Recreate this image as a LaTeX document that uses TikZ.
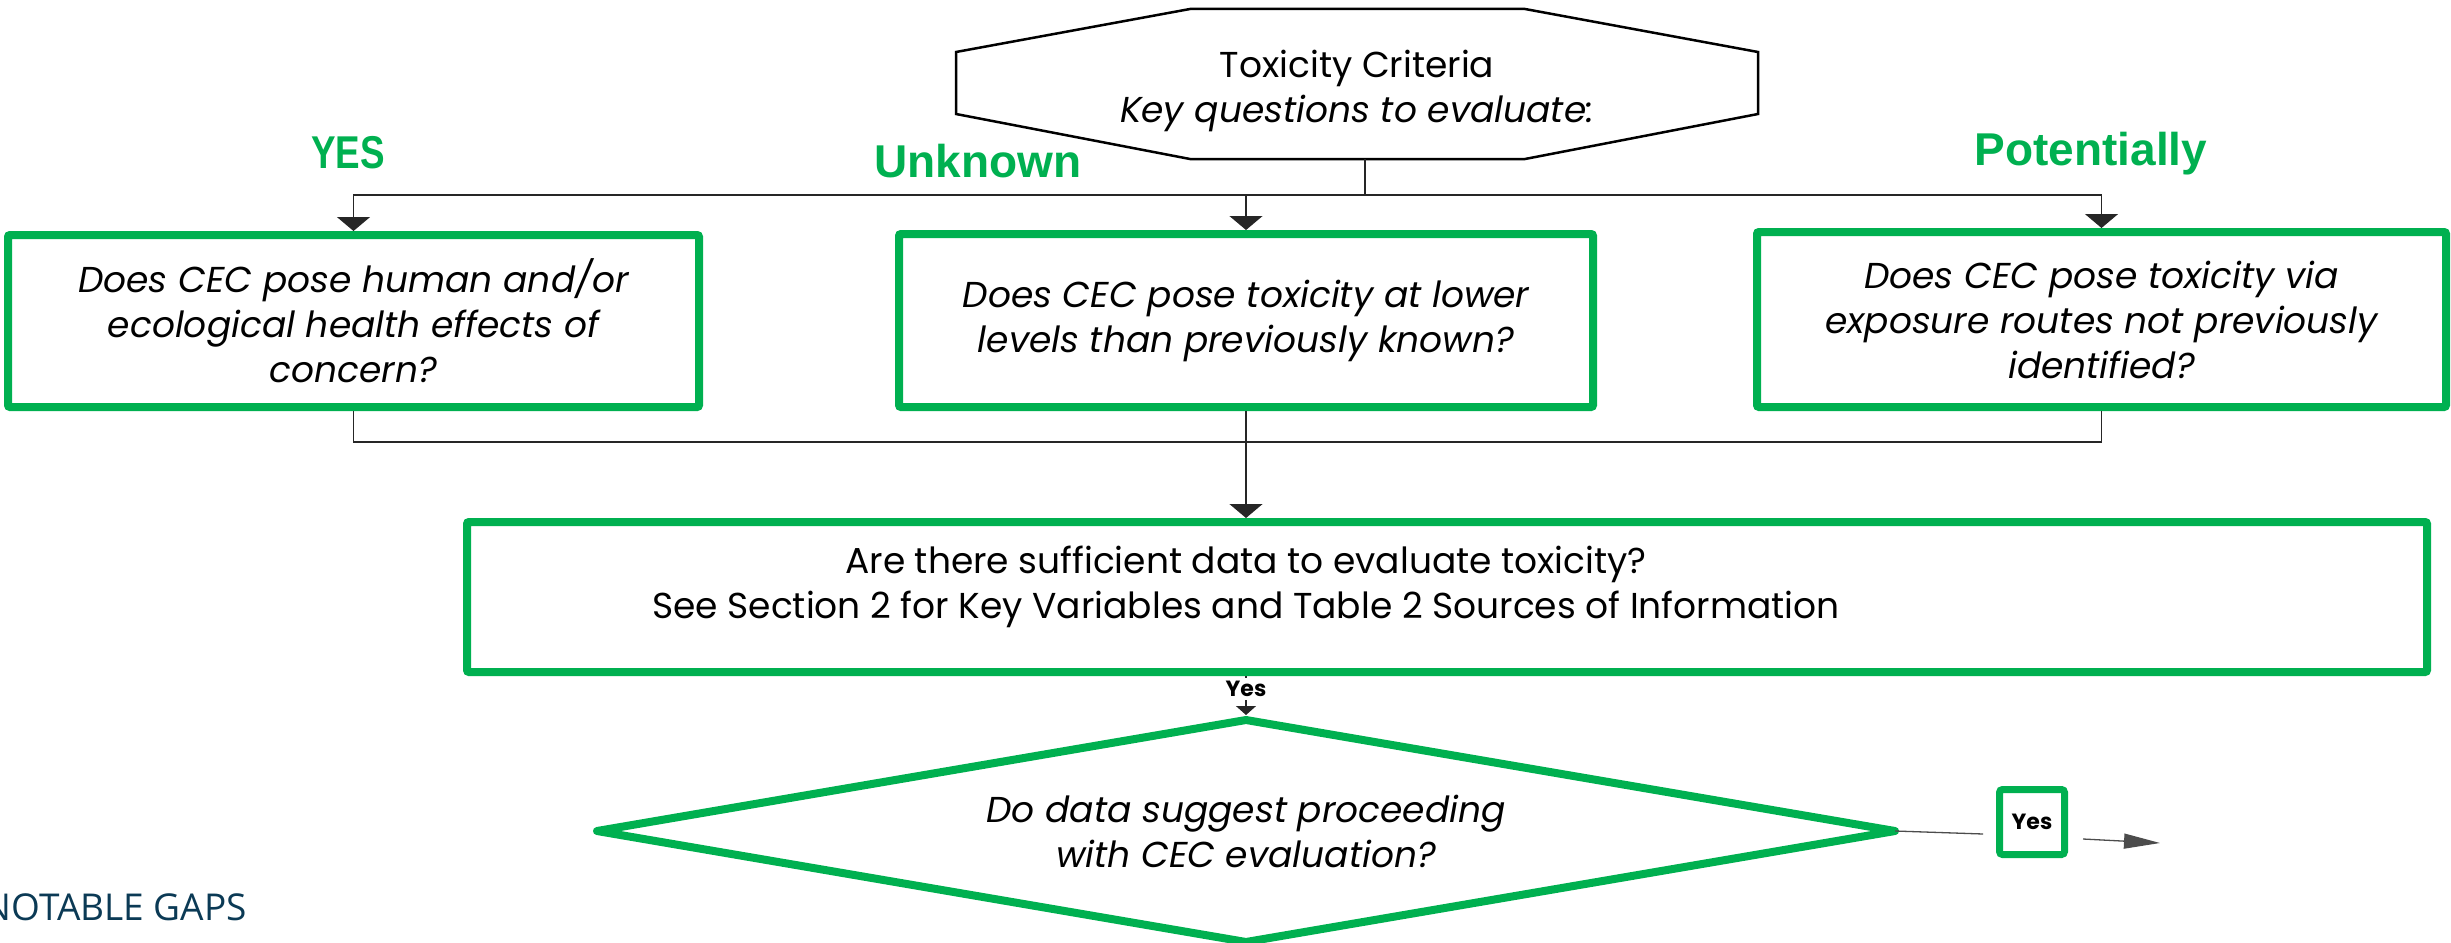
\documentclass[tikz,border=0pt]{standalone}
\usepackage{fontspec}
\setmainfont{Poppins}
\newfontfamily\headfont{Liberation Sans}
\newfontfamily\gapfont{Open Sans}
\usetikzlibrary{arrows.meta,shapes.geometric}
\definecolor{cgreen}{HTML}{00B050}
\definecolor{gapblue}{HTML}{0B3A55}
\begin{document}
\begin{tikzpicture}[x=1pt,y=-1pt,
  gbox/.style={draw=cgreen,line width=8pt,rounded corners=2pt,inner sep=0pt,align=center,
    font=\fontsize{36}{45}\selectfont\itshape},
  conn/.style={draw=black!85,line width=1.3pt},
  bigarr/.style={-{Triangle[width=33pt,length=14pt]}},
  smallarr/.style={-{Triangle[width=20pt,length=9pt]}},
  sidearr/.style={-{Triangle[width=15pt,length=36pt]}},
  head/.style={text=cgreen,font=\headfont\bfseries\fontsize{46}{50}\selectfont,anchor=base,inner sep=0pt},
  yeslbl/.style={font=\bfseries\fontsize{22}{24}\selectfont,inner sep=1pt},
  plain/.style={align=center,inner sep=0pt,font=\fontsize{36}{45}\selectfont}
]
\useasboundingbox (0,0) rectangle (2451,942);

% octagon
\node[minimum width=802pt,minimum height=150pt,inner sep=0pt,outer sep=0pt] (oct) at (1357,84) {};
\node[plain] (octtext) at (1357,91)
  {Toxicity Criteria\\\itshape Key questions to evaluate:};
\draw[line width=2.5pt,line join=miter]
  ([yshift=32pt]oct.west) -- ([xshift=-167pt]oct.north) -- ([xshift=168pt]oct.north)
  -- ([yshift=32pt]oct.east) -- ([yshift=-30pt]oct.east) -- ([xshift=168pt]oct.south)
  -- ([xshift=-167pt]oct.south) -- ([yshift=-30pt]oct.west) -- cycle;

% headings
\node[head] (hyes) at (348,168) {\scalebox{0.8}[1]{YES}};
\node[head] (hunk) at (978,177) {Unknown};
\node[head] (hpot) at (2091,165) {Potentially};

% question boxes
\node[gbox,minimum width=691pt,minimum height=172pt] (b1) at (353.5,321)
  {Does CEC pose human and/or\\ecological health effects of\\concern?};
\node[gbox,minimum width=694pt,minimum height=173pt] (b2) at (1246,320.5)
  {Does CEC pose toxicity at lower\\levels than previously known?};
\node[gbox,minimum width=689pt,minimum height=175pt] (b3) at (2101.5,319.5)
  {Does CEC pose toxicity via\\exposure routes not previously\\identified?};

% data box
\node[gbox,minimum width=1960pt,minimum height=150pt] (b4) at (1447,597) {};
\node[plain] (b4t) at (1246,587)
  {Are there sufficient data to evaluate toxicity?\\See Section 2 for Key Variables and Table 2 Sources of Information};

% decision diamond
\node[inner sep=0pt,outer sep=0pt,minimum width=1298pt,minimum height=222pt,
  align=center,font=\fontsize{36}{45}\selectfont\itshape] (dia) at (1246,831)
  {Do data suggest proceeding\\with CEC evaluation?};
\draw[cgreen,line width=8pt,line join=round] (dia.north) -- (dia.east) -- (dia.south) -- (dia.west) -- cycle;

% yes box
\node[draw=cgreen,line width=7pt,rounded corners=3pt,minimum width=65pt,minimum height=65pt,
  inner sep=0pt,yeslbl] (yb) at (2032,822) {\raisebox{-11pt}{Yes}};

% top connectors
\coordinate (bus) at (1365,195);
\draw[conn] ([xshift=8pt]oct.south) -- (bus);
\draw[conn,bigarr] (bus) -| (b1.north);
\draw[conn,bigarr] (bus) -| (b3.north);
\draw[conn,bigarr] (bus -| b2.north) -- (b2.north);

% bottom connectors
\coordinate (lowbus) at (1246,442);
\draw[conn] (b1.south) |- (lowbus) -| (b3.south);
\draw[conn,bigarr] (b2.south) -- (b2.south |- b4.north);
\draw[conn,smallarr,shorten >=5pt] (b2.south |- b4.south) -- (dia.north)
  node[pos=0.3,fill=white,yeslbl,inner sep=3pt] (ylbl) {Yes};

% right exit
\coordinate (ya) at (1983,834);
\coordinate (ys) at (2083,839);
\coordinate (yend) at (2160,843);
\draw[draw=black!70,line width=1.3pt] (dia.east) -- (ya);
\draw[draw=black!70,line width=1.3pt,sidearr] (ys) -- (yend);

% notable gaps
\node[anchor=base east,inner sep=0pt,text=gapblue,font=\gapfont\fontsize{37}{40}\selectfont] (gaps) at (247,920) {NOTABLE GAPS};
\end{tikzpicture}
\end{document}
